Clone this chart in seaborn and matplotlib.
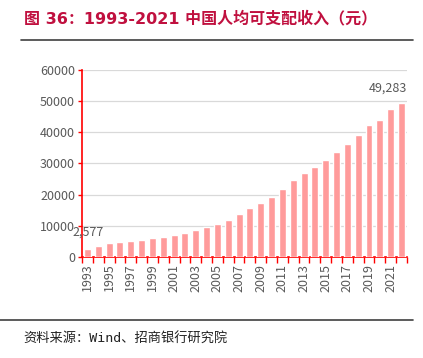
import matplotlib
matplotlib.use("Agg")
import matplotlib.pyplot as plt
import seaborn as sns
import numpy as np

# 城镇居民人均可支配收入（元）
years = list(range(1993, 2023))
income = [2577, 3496, 4283, 4839, 5160, 5425, 5854, 6280, 6860, 7703,
          8472, 9422, 10493, 11759, 13786, 15781, 17175, 19109, 21810, 24565,
          26955, 28844, 31195, 33616, 36396, 39251, 42359, 43834, 47412, 49283]
tick_years = [str(y) for y in years[::2]]

sns.set_theme(style="white")
plt.rcParams['font.family'] = ['Noto Sans CJK SC', 'DejaVu Sans']

red = '#FF0000'
bar_color = '#FF9B9B'
text_gray = '#595959'

fig = plt.figure(figsize=(4.23, 3.58), dpi=100)
ax = fig.add_axes([0.194, 0.283, 0.768, 0.521])

sns.barplot(x=[str(y) for y in years], y=income, color=bar_color,
            width=0.64, saturation=1, ax=ax, zorder=3)

ax.set_ylim(0, 60000)
ax.set_xlim(-0.5, len(years) - 0.5)
ax.set_yticks(range(0, 60001, 10000))
ax.yaxis.grid(True, color='#D9D9D9', linewidth=0.9, zorder=0)
ax.set_axisbelow(True)

# labels at every other bar, tick marks at bar boundaries
ax.set_xticks(np.arange(0, len(years), 2))
ax.set_xticklabels(tick_years, rotation=90)
ax.set_xticks(np.arange(-0.5, len(years)), minor=True)
ax.tick_params(axis='x', which='major', length=0, pad=5, labelsize=9, labelcolor=text_gray)
ax.tick_params(axis='x', which='minor', length=4, width=1, color=red, direction='out', bottom=True)
ax.tick_params(axis='y', length=3, width=1, color=red, direction='out', labelsize=9,
               labelcolor=text_gray, pad=2, left=True)

for s in ['top', 'right']:
    ax.spines[s].set_visible(False)
for s in ['left', 'bottom']:
    ax.spines[s].set_color(red)
    ax.spines[s].set_linewidth(1.2)
ax.set_xlabel('')
ax.set_ylabel('')

ax.annotate(f'{income[0]:,}', xy=(0, income[0]), xytext=(1, 10), textcoords='offset pixels',
            ha='center', va='bottom', fontsize=9, color=text_gray)
ax.annotate(f'{income[-1]:,}', xy=(len(years) - 1, income[-1]), xytext=(-14, 9),
            textcoords='offset pixels', ha='center', va='bottom', fontsize=9, color=text_gray)

fig.text(0.056, 0.948, '图 36：1993-2021 中国人均可支配收入（元）', fontsize=11.5,
         fontweight='bold', color='#C0103F', ha='left', va='center',
         family=['DejaVu Sans', 'Noto Sans CJK SC'])
fig.add_artist(plt.Line2D([0.05, 0.976], [0.888, 0.888], color='#404040', linewidth=1.2,
                          transform=fig.transFigure))
fig.add_artist(plt.Line2D([0.0, 0.976], [0.106, 0.106], color='#404040', linewidth=1.2,
                          transform=fig.transFigure))
fig.text(0.056, 0.052, '资料来源：Wind、招商银行研究院', fontsize=9.5, color='#222222',
         ha='left', va='center', family=['DejaVu Sans Mono', 'Noto Sans CJK SC'])

fig.savefig('out.png', dpi=100)
